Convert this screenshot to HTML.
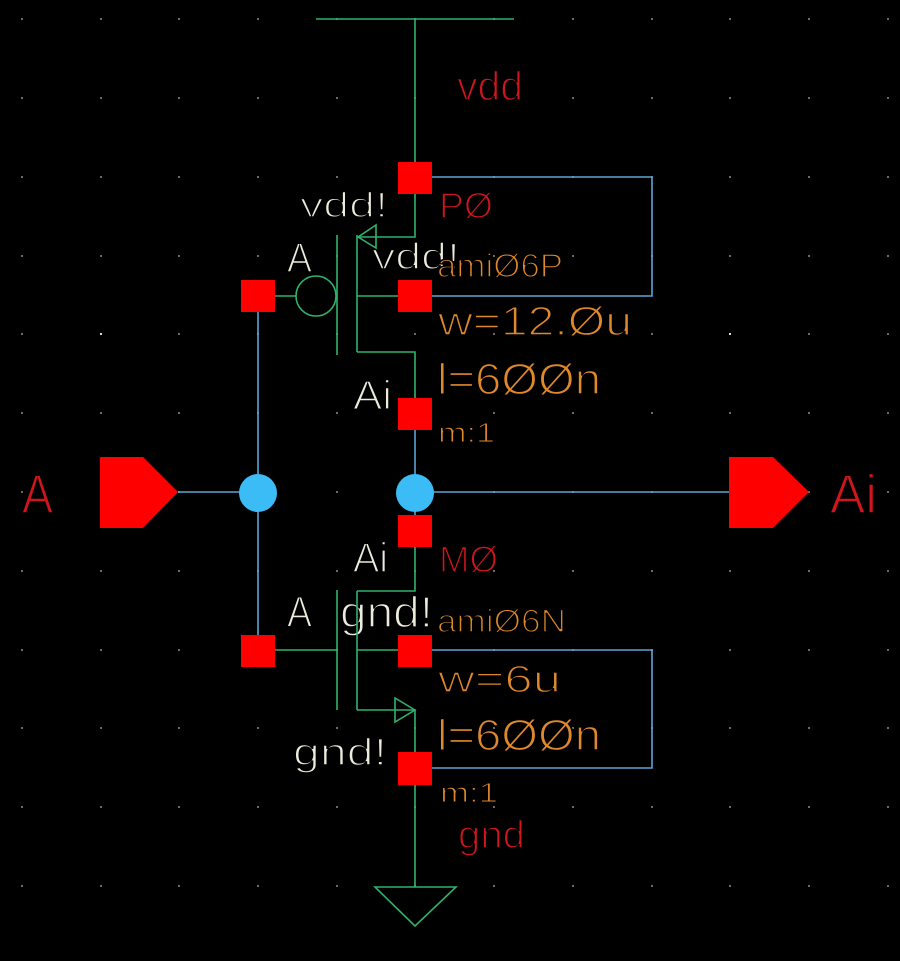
<!DOCTYPE html>
<html><head><meta charset="utf-8"><style>
html,body{margin:0;padding:0;background:#000;}
svg{display:block;}
text{font-family:"Liberation Sans",sans-serif;stroke:#000;stroke-width:1.5px;}
text.sm{stroke-width:1.1px;}
</style></head><body>
<svg width="900" height="961" viewBox="0 0 900 961" xmlns="http://www.w3.org/2000/svg">
<rect width="900" height="961" fill="#000"/>
<defs>
<g id="dotrow" fill="#6a6a6a">
<rect x="21" y="0" width="2" height="2"/>
<rect x="100" y="0" width="2" height="2"/>
<rect x="178" y="0" width="2" height="2"/>
<rect x="257" y="0" width="2" height="2"/>
<rect x="336" y="0" width="2" height="2"/>
<rect x="414" y="0" width="2" height="2"/>
<rect x="493" y="0" width="2" height="2"/>
<rect x="572" y="0" width="2" height="2"/>
<rect x="651" y="0" width="2" height="2"/>
<rect x="729" y="0" width="2" height="2"/>
<rect x="808" y="0" width="2" height="2"/>
<rect x="887" y="0" width="2" height="2"/>
</g>
</defs>
<use href="#dotrow" y="18"/>
<use href="#dotrow" y="97"/>
<use href="#dotrow" y="176"/>
<use href="#dotrow" y="255"/>
<use href="#dotrow" y="333"/>
<use href="#dotrow" y="412"/>
<use href="#dotrow" y="491"/>
<use href="#dotrow" y="570"/>
<use href="#dotrow" y="649"/>
<use href="#dotrow" y="727"/>
<use href="#dotrow" y="806"/>
<use href="#dotrow" y="885"/>
<rect x="100" y="333" width="2" height="2" fill="#ddd"/>
<rect x="729" y="333" width="2" height="2" fill="#ddd"/>
<!-- red labels -->
<g fill="#d0161c">
<text x="457" y="100" font-size="41" textLength="66" lengthAdjust="spacingAndGlyphs">vdd</text>
<text x="439" y="218" font-size="36" textLength="54" lengthAdjust="spacingAndGlyphs">PØ</text>
<text x="22" y="513" font-size="55" textLength="31" lengthAdjust="spacingAndGlyphs">A</text>
<text x="830" y="513" font-size="55" textLength="47" lengthAdjust="spacingAndGlyphs">Ai</text>
<text x="439" y="572" font-size="37" textLength="59" lengthAdjust="spacingAndGlyphs">MØ</text>
<text x="458" y="848" font-size="39" textLength="67" lengthAdjust="spacingAndGlyphs">gnd</text>
</g>
<!-- white labels -->
<g fill="#ecebdc">
<text x="300" y="217" font-size="35" textLength="88" lengthAdjust="spacingAndGlyphs">vdd!</text>
<text x="287" y="272" font-size="42" textLength="25" lengthAdjust="spacingAndGlyphs">A</text>
<text x="372" y="269" font-size="37" textLength="88" lengthAdjust="spacingAndGlyphs">vdd!</text>
<text x="353" y="409" font-size="41" textLength="39" lengthAdjust="spacingAndGlyphs">Ai</text>
<text x="353" y="572" font-size="42" textLength="35" lengthAdjust="spacingAndGlyphs">Ai</text>
<text x="287" y="627" font-size="44" textLength="25" lengthAdjust="spacingAndGlyphs">A</text>
<text x="340" y="627" font-size="44" textLength="93" lengthAdjust="spacingAndGlyphs">gnd!</text>
<text x="293" y="765" font-size="38" textLength="94" lengthAdjust="spacingAndGlyphs">gnd!</text>
</g>
<!-- orange labels -->
<g fill="#e0892c">
<text x="437" y="277" font-size="33" textLength="126" lengthAdjust="spacingAndGlyphs">amiØ6P</text>
<text x="438" y="335" font-size="41" textLength="194" lengthAdjust="spacingAndGlyphs">w=12.Øu</text>
<text x="437" y="394" font-size="44" textLength="164" lengthAdjust="spacingAndGlyphs">l=6ØØn</text>
<text class="sm" x="438" y="442" font-size="28" textLength="57" lengthAdjust="spacingAndGlyphs">m:1</text>
<text x="437" y="632" font-size="32" textLength="129" lengthAdjust="spacingAndGlyphs">amiØ6N</text>
<text x="438" y="692" font-size="38" textLength="123" lengthAdjust="spacingAndGlyphs">w=6u</text>
<text x="437" y="750" font-size="44" textLength="164" lengthAdjust="spacingAndGlyphs">l=6ØØn</text>
<text class="sm" x="440" y="802" font-size="28" textLength="58" lengthAdjust="spacingAndGlyphs">m:1</text>
</g>
<!-- blue wires -->
<g stroke="#5ba6d6" stroke-width="1.6" fill="none">
<polyline points="432,177 652,177 652,296 432,296"/>
<polyline points="432,650 652,650 652,768 432,768"/>
<line x1="258" y1="312" x2="258" y2="636"/>
<line x1="415" y1="430" x2="415" y2="515"/>
<line x1="178" y1="492" x2="258" y2="492"/>
<line x1="415" y1="492" x2="729" y2="492"/>
</g>
<!-- green symbol lines -->
<g stroke="#2fb36c" stroke-width="1.6" fill="none">
<line x1="316" y1="19" x2="514" y2="19"/>
<line x1="415" y1="19" x2="415" y2="162"/>
<polyline points="415,193 415,237 358,237"/>
<polygon points="358,237 376,225 376,248"/>
<line x1="337" y1="235" x2="337" y2="355"/>
<line x1="357" y1="235" x2="357" y2="352"/>
<line x1="357" y1="296" x2="398" y2="296"/>
<polyline points="357,352 415,352 415,398"/>
<circle cx="316" cy="296" r="20"/>
<line x1="275" y1="296" x2="296" y2="296"/>
<polyline points="415,547 415,591 357,591"/>
<line x1="357" y1="591" x2="357" y2="710"/>
<line x1="337" y1="590" x2="337" y2="710"/>
<line x1="275" y1="650" x2="337" y2="650"/>
<line x1="357" y1="650" x2="398" y2="650"/>
<polyline points="357,710 415,710 415,752"/>
<polygon points="415,710 395,698 395,722"/>
<line x1="415" y1="785" x2="415" y2="887"/>
<polygon points="375,887 456,887 415,926"/>
</g>
<!-- red squares -->
<g fill="#ff0000">
<rect x="398" y="162" width="34" height="32"/>
<rect x="398" y="280" width="34" height="32"/>
<rect x="241" y="280" width="34" height="32"/>
<rect x="398" y="398" width="34" height="32"/>
<rect x="398" y="515" width="34" height="32"/>
<rect x="241" y="635" width="34" height="32"/>
<rect x="398" y="635" width="34" height="32"/>
<rect x="398" y="752" width="34" height="33"/>
<polygon points="100,457 143,457 178,492 143,528 100,528"/>
<polygon points="729,457 773,457 809,492 773,528 729,528"/>
</g>
<!-- junction dots -->
<g fill="#3bbcf7">
<circle cx="258" cy="493" r="19"/>
<circle cx="415" cy="493" r="19"/>
</g>
</svg>
</body></html>
